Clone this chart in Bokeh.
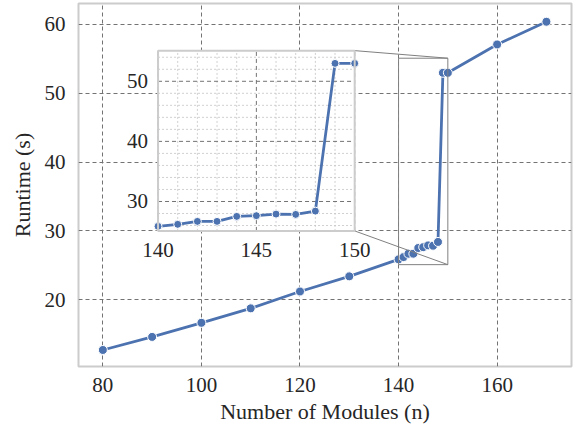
import math
from bokeh.plotting import figure
from bokeh.models import Range1d, FixedTicker
from bokeh.core.properties import value
from bokeh.embed import file_html
from bokeh.resources import INLINE

# ---------------- data ----------------
modules = [80, 90, 100, 110, 120, 130, 140, 141, 142, 143, 144, 145, 146, 147, 148, 149, 150, 160, 170]
runtime = [12.7, 14.6, 16.65, 18.75, 21.2, 23.4, 25.87, 26.2, 26.69, 26.69, 27.52, 27.64, 27.9, 27.85,
           28.4, 52.98, 52.98, 57.1, 60.4]

x_ticks = [80, 100, 120, 140, 160]
y_ticks = [20, 30, 40, 50, 60]

# inset (zoom) axes
inset_xlim = (140, 150)
inset_ylim = (25.1, 55.1)
inset_x_major = [140, 145, 150]
inset_x_minor = [141, 142, 143, 144, 146, 147, 148, 149]
inset_y_major = [30, 40, 50]
inset_y_minor = [26, 28, 32, 34, 36, 38, 42, 44, 46, 48, 52, 54]
inset_x_labels = ["140", "145", "150"]
inset_y_labels = ["30", "40", "50"]

# ---------------- layout / style ----------------
FONT = "Liberation Serif"
TXT = "#262626"
BLUE = "#4c72b0"
GRID = "#737373"
EDGE = "#cccccc"
# inset box placed in main-axes data coordinates (layout)
box_x = (91.2, 131.1)
box_y = (30.0, 56.2)

p = figure(width=579, height=429, output_backend="svg", toolbar_location=None,
           x_range=Range1d(75.06, 175.09), y_range=Range1d(10.3, 63.05),
           min_border_left=78, min_border_right=8, min_border_top=3, min_border_bottom=63)
p.background_fill_color = "white"
p.border_fill_color = "white"
p.outline_line_color = EDGE
p.outline_line_width = 2

for ax in (p.xaxis[0], p.yaxis[0]):
    ax.axis_line_color = None
    ax.major_tick_line_color = None
    ax.minor_tick_line_color = None
    ax.major_label_text_font = FONT
    ax.major_label_text_font_size = "21px"
    ax.major_label_text_color = TXT
    ax.axis_label_text_font = FONT
    ax.axis_label_text_font_size = "22px"
    ax.axis_label_text_font_style = "normal"
    ax.axis_label_text_color = TXT
p.xaxis.ticker = FixedTicker(ticks=x_ticks)
p.yaxis.ticker = FixedTicker(ticks=y_ticks)
p.xaxis.major_label_standoff = 5
p.yaxis.major_label_standoff = 7
p.xaxis.axis_label = "Number of Modules (n)"
p.yaxis.axis_label = "Runtime (s)"
p.xaxis.axis_label_standoff = 4
p.yaxis.axis_label_standoff = 7

p.xgrid.ticker = FixedTicker(ticks=x_ticks)
p.ygrid.ticker = FixedTicker(ticks=y_ticks)
for g in (p.xgrid[0], p.ygrid[0]):
    g.grid_line_color = GRID
    g.grid_line_dash = "4 3"
    g.grid_line_width = 1

# main series
p.line(modules, runtime, line_color=BLUE, line_width=2.8)
p.scatter(modules, runtime, size=9, fill_color=BLUE, line_color="white", line_width=1)

# indicator rectangle + connectors (mark_inset)
p.quad(left=inset_xlim[0], right=inset_xlim[1], bottom=inset_ylim[0], top=inset_ylim[1],
       fill_color=None, line_color="#808080", line_width=1)
p.segment(x0=[box_x[1], box_x[1]], y0=[box_y[1], box_y[0]],
          x1=[inset_xlim[1], inset_xlim[1]], y1=[inset_ylim[1], inset_ylim[0]],
          line_color="#808080", line_width=1)

# ---------------- inset ----------------
ins = p.subplot(x_source=Range1d(*inset_xlim), y_source=Range1d(*inset_ylim),
                x_target=Range1d(*box_x), y_target=Range1d(*box_y))
ins.quad(left=inset_xlim[0], right=inset_xlim[1], bottom=inset_ylim[0], top=inset_ylim[1],
         fill_color="white", line_color=None)
# minor grid
ins.segment(x0=inset_x_minor, x1=inset_x_minor, y0=[inset_ylim[0]] * len(inset_x_minor),
            y1=[inset_ylim[1]] * len(inset_x_minor), line_color="#c4c4c4", line_width=0.8, line_dash="2 2")
ins.segment(y0=inset_y_minor, y1=inset_y_minor, x0=[inset_xlim[0]] * len(inset_y_minor),
            x1=[inset_xlim[1]] * len(inset_y_minor), line_color="#c4c4c4", line_width=0.8, line_dash="2 2")
# major grid
ins.segment(x0=inset_x_major, x1=inset_x_major, y0=[inset_ylim[0]] * len(inset_x_major),
            y1=[inset_ylim[1]] * len(inset_x_major), line_color=GRID, line_width=1, line_dash="4 3")
ins.segment(y0=inset_y_major, y1=inset_y_major, x0=[inset_xlim[0]] * len(inset_y_major),
            x1=[inset_xlim[1]] * len(inset_y_major), line_color=GRID, line_width=1, line_dash="4 3")

zx = [m for m in modules if inset_xlim[0] <= m <= inset_xlim[1]]
zy = [r for m, r in zip(modules, runtime) if inset_xlim[0] <= m <= inset_xlim[1]]
ins.line(zx, zy, line_color=BLUE, line_width=2.8)
ins.scatter(zx, zy, size=8, fill_color=BLUE, line_color="white", line_width=1)

ins.quad(left=inset_xlim[0], right=inset_xlim[1], bottom=inset_ylim[0], top=inset_ylim[1],
         fill_color=None, line_color=EDGE, line_width=2)

ins.text(x=inset_x_major, y=[inset_ylim[0]] * 3, text=inset_x_labels, y_offset=19,
         text_align="center", text_baseline="middle", text_font=value(FONT),
         text_font_size="21px", text_color=TXT)
ins.text(x=[inset_xlim[0]] * 3, y=inset_y_major, text=inset_y_labels, x_offset=-10,
         text_align="right", text_baseline="middle", text_font=value(FONT),
         text_font_size="21px", text_color=TXT)

open("out.html", "w").write(file_html(p, INLINE))
